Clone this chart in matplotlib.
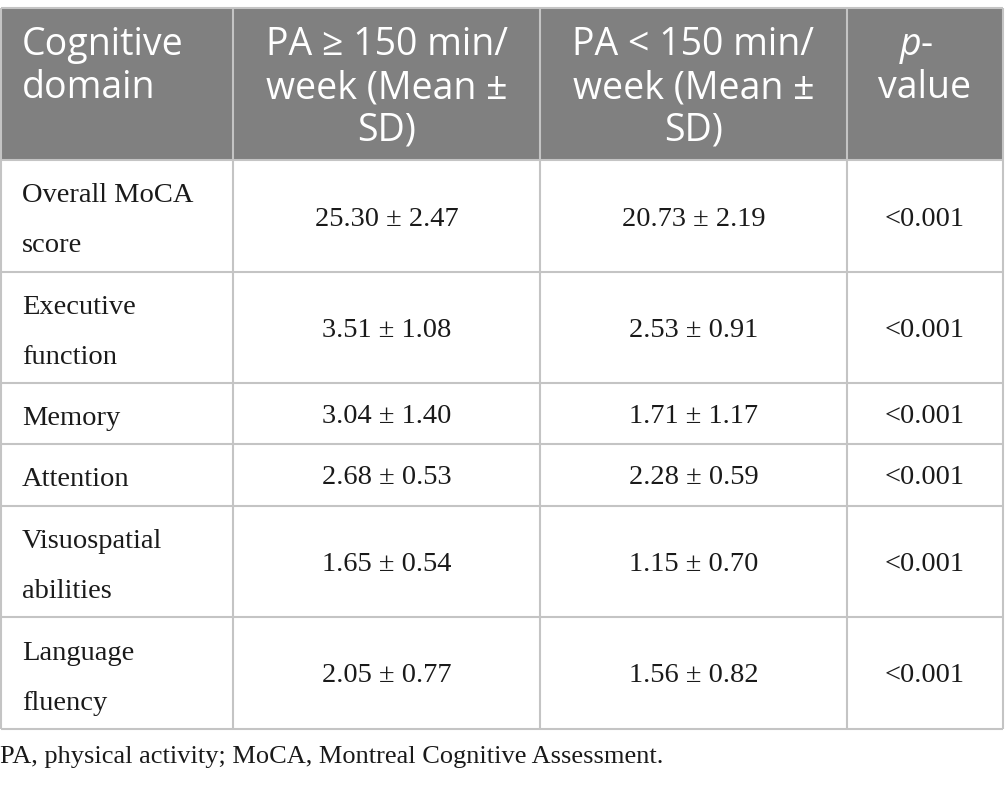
import matplotlib.pyplot as plt
import matplotlib.patches as patches

# table content
domains = [["Overall MoCA", "score"], ["Executive", "function"], ["Memory"],
           ["Attention"], ["Visuospatial", "abilities"], ["Language", "fluency"]]
high_mean = [25.30, 3.51, 3.04, 2.68, 1.65, 2.05]
high_sd = [2.47, 1.08, 1.40, 0.53, 0.54, 0.77]
low_mean = [20.73, 2.53, 1.71, 2.28, 1.15, 1.56]
low_sd = [2.19, 0.91, 1.17, 0.59, 0.70, 0.82]
p_values = ["<0.001"] * 6
header_cols = [["Cognitive", "domain"],
               ["PA \u2265 150 min/", "week (Mean \u00b1", "SD)"],
               ["PA < 150 min/", "week (Mean \u00b1", "SD)"]]
caption = "PA, physical activity; MoCA, Montreal Cognitive Assessment."

# layout (pixels)
col_x = [1, 233, 540, 847, 1003]
row_y = [8, 160, 272, 383, 444, 506, 617, 729]
grid_c = "#c4c4c4"
head_c = "#808080"
sans = "Open Sans"
serif = "Liberation Serif"

fig = plt.figure(figsize=(10.05, 7.85), dpi=100)
ax = fig.add_axes([0, 0, 1, 1])
ax.set_xlim(0, 1005)
ax.set_ylim(785, 0)
ax.axis("off")

# header background
ax.add_patch(patches.Rectangle((col_x[0], row_y[0]), col_x[-1] - col_x[0],
                               row_y[1] - row_y[0], facecolor=head_c, edgecolor="none"))

# grid lines
for y in row_y:
    ax.plot([col_x[0], col_x[-1]], [y, y], color=grid_c, lw=1.5, solid_capstyle="butt")
for x in col_x:
    ax.plot([x, x], [row_y[0], row_y[-1]], color=grid_c, lw=1.5, solid_capstyle="butt")

# header text
hs = 27
line_h = 43
y0 = 45
for j, lines in enumerate(header_cols):
    for k, s in enumerate(lines):
        if j == 0:
            ax.text(22, y0 + k * line_h, s, ha="left", va="center", color="white",
                    fontsize=hs, family=sans)
        else:
            cx = (col_x[j] + col_x[j + 1]) / 2
            ax.text(cx, y0 + k * line_h, s, ha="center", va="center", color="white",
                    fontsize=hs, family=sans)

cx = (col_x[3] + col_x[4]) / 2
ax.text(cx - 4, y0, "p", ha="right", va="center", color="white",
        fontsize=hs, family=sans, style="italic")
ax.text(cx - 4, y0, "-", ha="left", va="center", color="white",
        fontsize=hs, family=sans)
ax.text(cx, y0 + line_h, "value", ha="center", va="center", color="white",
        fontsize=hs, family=sans)

# body rows
bs = 20.5
txt = dict(fontsize=bs, family=serif, color="#1a1a1a", va="center_baseline")
for i in range(len(domains)):
    top, bot = row_y[i + 1], row_y[i + 2]
    mid = (top + bot) / 2
    lines = domains[i]
    n = len(lines)
    for k, s in enumerate(lines):
        ax.text(22, mid + 2 + (k - (n - 1) / 2) * 50, s, ha="left", **txt)
    ax.text((col_x[1] + col_x[2]) / 2, mid, f"{high_mean[i]:.2f} \u00b1 {high_sd[i]:.2f}",
            ha="center", **txt)
    ax.text((col_x[2] + col_x[3]) / 2, mid, f"{low_mean[i]:.2f} \u00b1 {low_sd[i]:.2f}",
            ha="center", **txt)
    ax.text((col_x[3] + col_x[4]) / 2, mid, p_values[i], ha="center", **txt)

ax.text(0, 757, caption, ha="left", va="center", fontsize=19, family=serif, color="#1a1a1a")

fig.savefig("out.png", dpi=100)
